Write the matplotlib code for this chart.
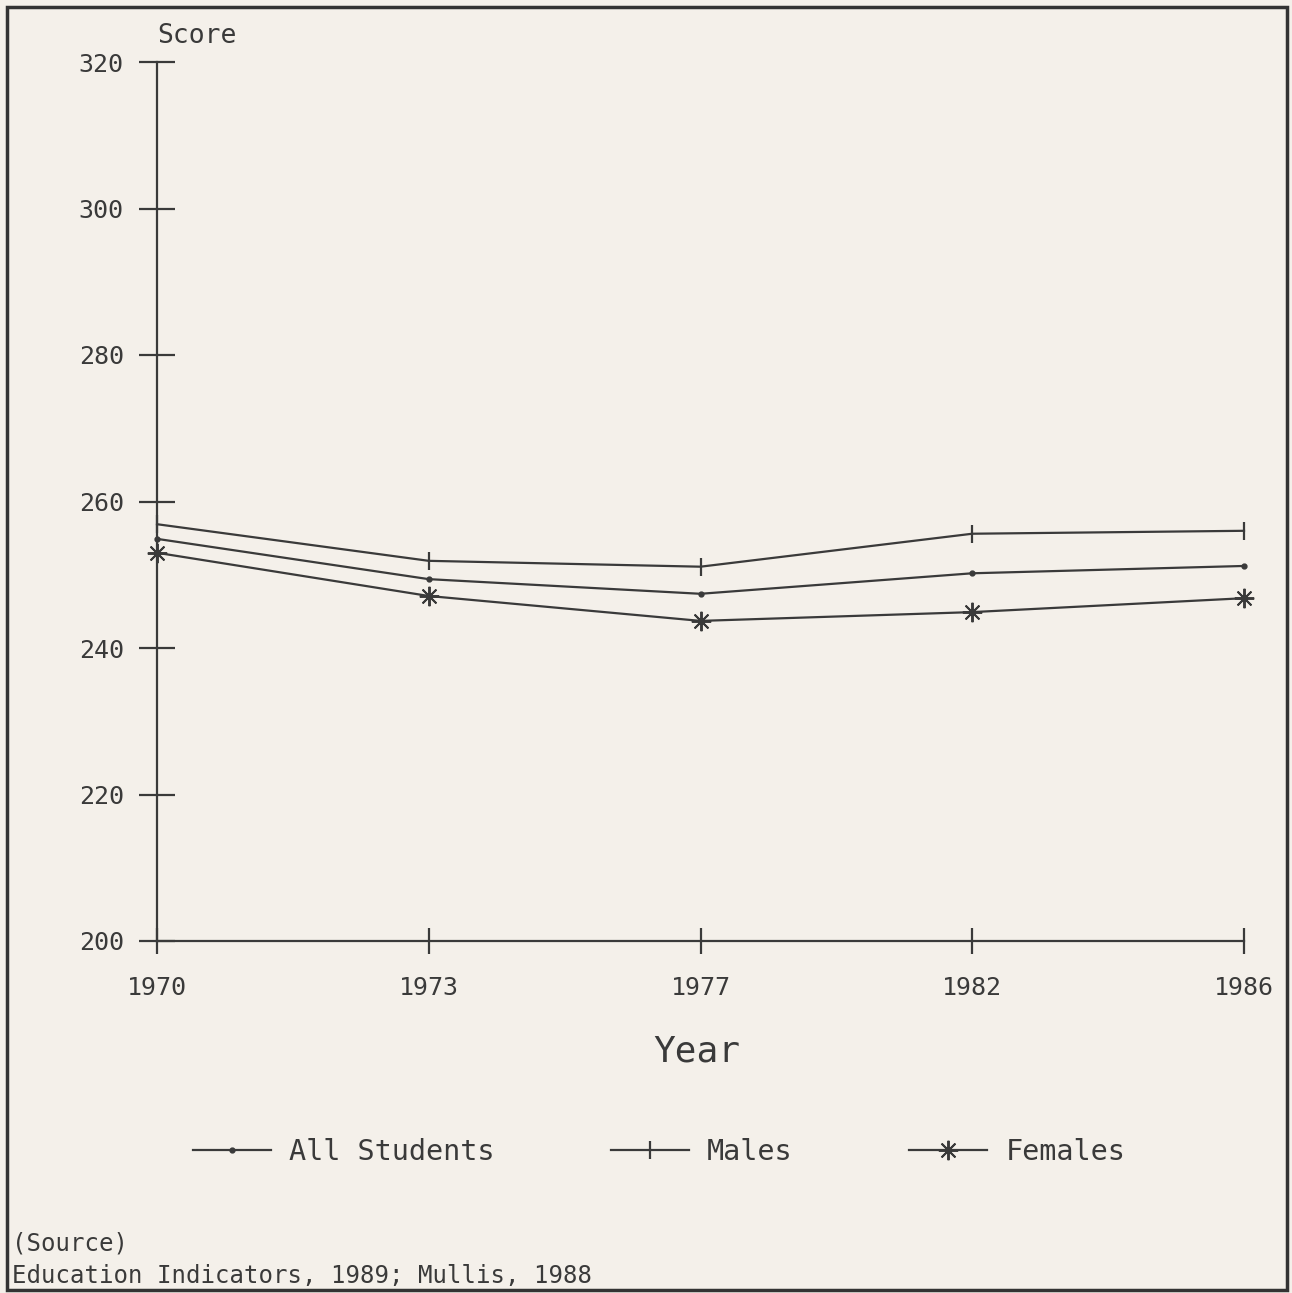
import matplotlib
matplotlib.use("Agg")
import matplotlib.pyplot as plt
from matplotlib.patches import Rectangle

years = ["1970", "1973", "1977", "1982", "1986"]
all_students = [254.9, 249.4, 247.4, 250.2, 251.2]
males = [256.9, 251.9, 251.1, 255.6, 256.0]
females = [253.0, 247.1, 243.7, 244.9, 246.8]
y_ticks = [200, 220, 240, 260, 280, 300, 320]

bg = "#f4f0ea"
ink = "#3a3a3a"
plt.rcParams['font.family'] = ['DejaVu Sans Mono']

fig = plt.figure(figsize=(12.92, 12.93), dpi=100, facecolor=bg)
ax = fig.add_axes([157/1292, 1-941/1293, (1244-157)/1292, (941-62)/1293])
ax.set_facecolor(bg)

x = list(range(len(years)))
ax.plot(x, all_students, color=ink, lw=1.6, marker='o', ms=3.5, label="All Students", clip_on=False)
ax.plot(x, males, color=ink, lw=1.6, marker='|', ms=13, mew=1.6, label="Males", clip_on=False)
ax.plot(x, females, color=ink, lw=1.6, marker=(8, 2, 0), ms=14, mew=1.4, label="Females", clip_on=False)

ax.set_xlim(0, len(years)-1)
ax.set_ylim(200, 320)
ax.set_xticks(x)
ax.set_xticklabels(years)
ax.set_yticks(y_ticks)
for s in ["top", "right"]:
    ax.spines[s].set_visible(False)
for s in ["left", "bottom"]:
    ax.spines[s].set_color(ink)
    ax.spines[s].set_linewidth(1.6)
ax.tick_params(axis='y', direction='inout', length=26, width=1.6, color=ink, labelsize=18, labelcolor=ink, pad=11)
ax.tick_params(axis='x', direction='inout', length=19, width=1.6, color=ink, labelsize=18, labelcolor=ink, pad=16)

fig.text(157/1292, 1-36/1293, "Score", fontsize=19, color=ink, ha='left', va='center')
fig.text(697/1292, 1-1052/1293, "Year", fontsize=26, color=ink, ha='center', va='center')

leg = ax.legend(loc='center', bbox_to_anchor=(659/1292, 1-1152/1293), bbox_transform=fig.transFigure,
                ncol=3, frameon=False, fontsize=20.5, handlelength=2.74, columnspacing=4.1,
                handletextpad=0.63, labelcolor=ink, borderpad=0, borderaxespad=0)

fig.text(12/1292, 1-1243/1293, "(Source)", fontsize=17.3, color=ink, ha='left', va='center')
fig.text(12/1292, 1-1276/1293, "Education Indicators, 1989; Mullis, 1988", fontsize=17.3, color=ink, ha='left', va='center')

fig.add_artist(Rectangle((7/1292, 3/1293), (1287-7)/1292, (1286-3)/1293, transform=fig.transFigure,
                         fill=False, edgecolor="#333333", lw=2.5))

fig.savefig("out.png", dpi=100, facecolor=bg)
